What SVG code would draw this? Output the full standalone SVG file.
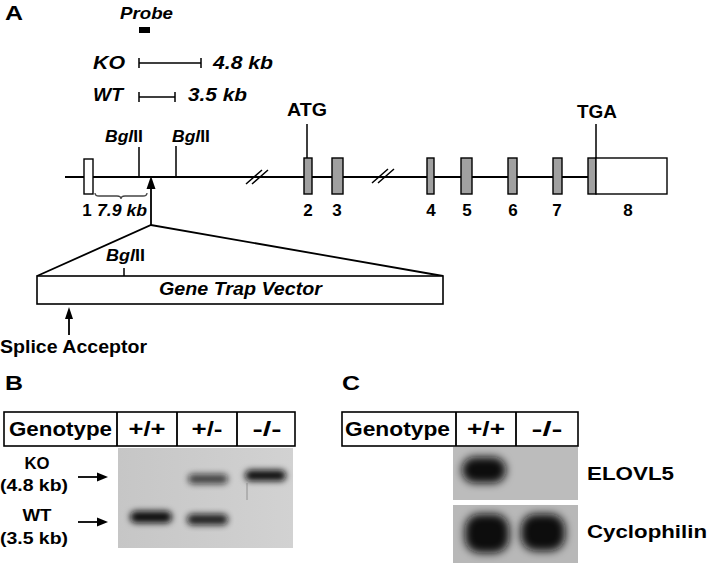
<svg xmlns="http://www.w3.org/2000/svg" width="707" height="563" viewBox="0 0 707 563">
<defs>
<style>
text{font-family:"Liberation Sans",Arial,sans-serif;font-weight:bold;fill:#000}
.i{font-style:italic}
.ln{stroke:#000;stroke-width:1.8;fill:none}
.thin{stroke:#000;stroke-width:1.5;fill:none}
.ex{fill:#a0a0a0;stroke:#000;stroke-width:1.4}
.wx{fill:#fff;stroke:#000;stroke-width:1.4}
.cell{fill:#fff;stroke:#000;stroke-width:1.6}
.band{fill:#111;filter:url(#blur)}
.bandc{fill:#111;filter:url(#blur2)}
</style>
<filter id="blur" x="-50%" y="-80%" width="200%" height="260%"><feGaussianBlur stdDeviation="3.3"/></filter>
<filter id="blur2" x="-50%" y="-50%" width="200%" height="200%"><feGaussianBlur stdDeviation="4.5"/></filter>
<linearGradient id="gb" x1="0" y1="0" x2="1" y2="0"><stop offset="0" stop-color="#c6c6c6"/><stop offset="1" stop-color="#d2d2d2"/></linearGradient>
</defs>
<rect width="707" height="563" fill="#fff"/>

<g id="panelA-labels">
<text x="5" y="20" font-size="21" textLength="18" lengthAdjust="spacingAndGlyphs">A</text>
<text class="i" x="120" y="19" font-size="17" textLength="53" lengthAdjust="spacingAndGlyphs">Probe</text>
<rect x="139" y="27" width="11" height="6" fill="#000"/>
</g>

<g id="ko-fragment">
<text class="i" x="93" y="69" font-size="17.5" textLength="32" lengthAdjust="spacingAndGlyphs">KO</text>
<path class="thin" d="M139,63H201M139,58V68M201,58V68"/>
<text class="i" x="213" y="69" font-size="17.5" textLength="60" lengthAdjust="spacingAndGlyphs">4.8 kb</text>
</g>
<g id="wt-fragment">
<text class="i" x="93" y="101" font-size="17.5" textLength="30" lengthAdjust="spacingAndGlyphs">WT</text>
<path class="thin" d="M139,97H175M139,92V102M175,92V102"/>
<text class="i" x="188" y="101" font-size="17.5" textLength="59" lengthAdjust="spacingAndGlyphs">3.5 kb</text>
</g>

<g id="gene">
<path class="ln" d="M65,177H588"/>
<path class="thin" d="M246,184L262,170M252,184L268,170M372,183L388,169M378,183L394,169"/>
<rect class="wx" x="84" y="159" width="9" height="35"/>
<rect class="ex" x="304" y="158" width="8" height="36"/>
<rect class="ex" x="332" y="158" width="11" height="36"/>
<rect class="ex" x="427" y="158" width="7" height="36"/>
<rect class="ex" x="461" y="158" width="11" height="36"/>
<rect class="ex" x="508" y="158" width="9" height="36"/>
<rect class="ex" x="553" y="158" width="9" height="36"/>
<rect class="ex" x="588" y="158" width="8" height="36"/>
<rect class="wx" x="596" y="158" width="71" height="36"/>
<path class="thin" d="M139,147V177M176,146V177M307,124V158M596,124V158"/>
<text x="105" y="142" font-size="17" textLength="38" lengthAdjust="spacingAndGlyphs"><tspan class="i">Bgl</tspan>II</text>
<text x="172" y="142" font-size="17" textLength="38" lengthAdjust="spacingAndGlyphs"><tspan class="i">Bgl</tspan>II</text>
<text x="287" y="116" font-size="19" textLength="40" lengthAdjust="spacingAndGlyphs">ATG</text>
<text x="577" y="118" font-size="19" textLength="40" lengthAdjust="spacingAndGlyphs">TGA</text>
<path d="M95,193q0,3 4,3h18q4,0 4,3q0,-3 4,-3h18q4,0 4,-3" fill="none" stroke="#444" stroke-width="1.3"/>
<g font-size="17" text-anchor="middle">
<text x="87" y="216">1</text>
<text x="308" y="216">2</text>
<text x="337" y="216">3</text>
<text x="431" y="216">4</text>
<text x="467" y="216">5</text>
<text x="513" y="216">6</text>
<text x="557" y="216">7</text>
<text x="628" y="216">8</text>
</g>
<text class="i" x="97" y="216" font-size="17" textLength="50" lengthAdjust="spacingAndGlyphs">7.9 kb</text>
</g>

<g id="vector">
<path class="ln" d="M37,276L151,225L443,276"/>
<rect class="cell" x="37" y="276" width="406" height="28"/>
<path class="thin" d="M124,268V276"/>
<text x="106" y="261" font-size="17" textLength="39" lengthAdjust="spacingAndGlyphs"><tspan class="i">Bgl</tspan>II</text>
<text class="i" x="159" y="295" font-size="19" textLength="163" lengthAdjust="spacingAndGlyphs">Gene Trap Vector</text>
<text x="0" y="353" font-size="19" textLength="147" lengthAdjust="spacingAndGlyphs">Splice Acceptor</text>
</g>

<g id="connectors">
<path class="ln" d="M151,225V186"/>
<polygon points="151,176 146.5,189 155.5,189" fill="#000"/>
<path class="ln" d="M69,335V316"/>
<polygon points="69,307 65,319 73,319" fill="#000"/>
<path class="ln" d="M78,477H100"/>
<polygon points="108,477 97,472.5 97,481.5" fill="#000"/>
<path class="ln" d="M78,522H100"/>
<polygon points="108,522 97,517.5 97,526.5" fill="#000"/>
</g>

<g id="panelB">
<text x="5" y="390" font-size="21" textLength="18" lengthAdjust="spacingAndGlyphs">B</text>
<rect class="cell" x="4" y="412" width="291" height="34"/>
<path class="ln" d="M117,412V446M177,412V446M237,412V446"/>
<text x="9" y="436" font-size="21" textLength="103" lengthAdjust="spacingAndGlyphs">Genotype</text>
<text x="147" y="436" font-size="21" text-anchor="middle" textLength="37" lengthAdjust="spacingAndGlyphs">+/+</text>
<text x="207" y="436" font-size="21" text-anchor="middle" textLength="31" lengthAdjust="spacingAndGlyphs">+/-</text>
<text x="267" y="436" font-size="21" text-anchor="middle" textLength="29" lengthAdjust="spacingAndGlyphs">-/-</text>
<text x="37" y="469" font-size="17" text-anchor="middle" textLength="25" lengthAdjust="spacingAndGlyphs">KO</text>
<text x="0" y="491" font-size="17" textLength="68" lengthAdjust="spacingAndGlyphs">(4.8 kb)</text>
<text x="37" y="521" font-size="17" text-anchor="middle" textLength="29" lengthAdjust="spacingAndGlyphs">WT</text>
<text x="0" y="544" font-size="17" textLength="68" lengthAdjust="spacingAndGlyphs">(3.5 kb)</text>
<rect x="118" y="448" width="175" height="100" fill="url(#gb)"/>
<rect class="band" x="130" y="511" width="42" height="12" rx="6"/>
<rect class="band" x="187" y="514" width="41" height="11" rx="5.5" opacity="0.9"/>
<rect class="band" x="188" y="474" width="40" height="10" rx="5" opacity="0.72"/>
<rect class="band" x="245" y="470" width="41" height="11" rx="5.5"/>
<path d="M247,483V500" stroke="#777" stroke-width="1" opacity="0.7"/>
</g>

<g id="panelC">
<text x="342" y="390" font-size="21" textLength="18" lengthAdjust="spacingAndGlyphs">C</text>
<rect class="cell" x="342" y="412" width="236" height="34"/>
<path class="ln" d="M456,412V446M516,412V446"/>
<text x="345" y="436" font-size="21" textLength="105" lengthAdjust="spacingAndGlyphs">Genotype</text>
<text x="486" y="436" font-size="21" text-anchor="middle" textLength="38" lengthAdjust="spacingAndGlyphs">+/+</text>
<text x="547" y="436" font-size="21" text-anchor="middle" textLength="31" lengthAdjust="spacingAndGlyphs">-/-</text>
<rect x="453" y="447" width="125" height="53" fill="#bcbcbc"/>
<rect class="bandc" x="462" y="457" width="44" height="26" rx="13"/>
<rect x="453" y="505" width="125" height="58" fill="#b8b8b8"/>
<rect class="bandc" x="465" y="514" width="44" height="39" rx="15"/>
<rect class="bandc" x="521" y="514" width="44" height="37" rx="15"/>
<text x="587" y="480" font-size="19" textLength="87" lengthAdjust="spacingAndGlyphs">ELOVL5</text>
<text x="587" y="538" font-size="19" textLength="120" lengthAdjust="spacingAndGlyphs">Cyclophilin</text>
</g>
</svg>
